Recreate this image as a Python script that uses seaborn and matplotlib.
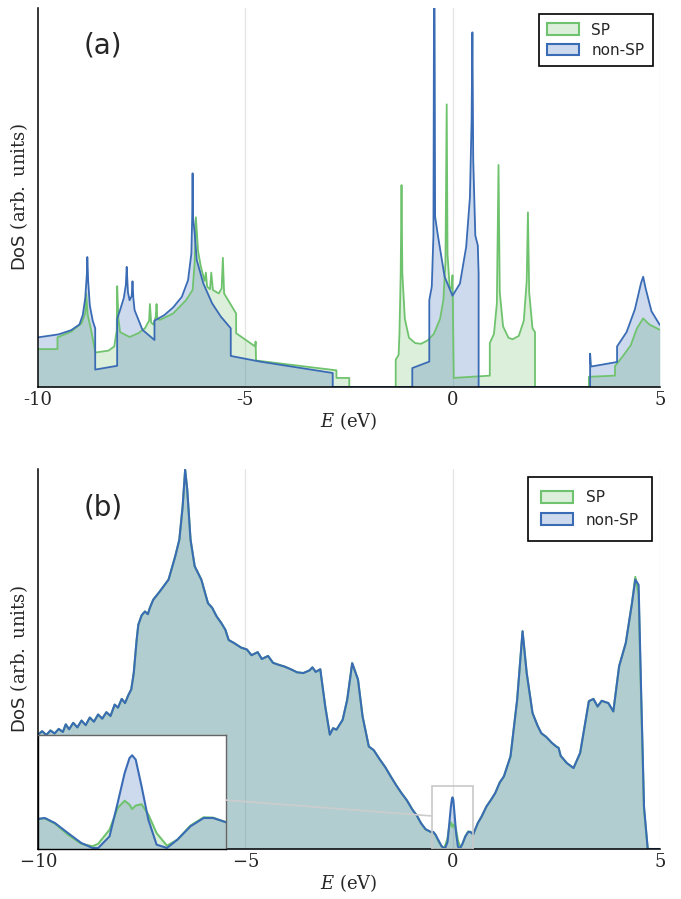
import numpy as np
import matplotlib
matplotlib.use("Agg")
import matplotlib.pyplot as plt
import seaborn as sns
from matplotlib.patches import Patch, Rectangle, ConnectionPatch
from matplotlib.ticker import FixedLocator, FixedFormatter

# ---- panel (a): bare DoS (E in eV, DoS in arb. units 0-100)
a_sp_e = [-10.0, -9.53, -9.53, -9.2, -8.95, -8.86, -8.84, -8.80, -8.72, -8.63, -8.62, -8.3, -8.16,
          -8.10, -8.09, -8.06, -8.02, -7.88, -7.79, -7.58, -7.42, -7.32, -7.30, -7.27, -7.22, -7.16,
          -7.14, -7.12, -7.06, -6.74, -6.43, -6.27, -6.22, -6.19, -6.14, -6.07, -5.98, -5.95, -5.92,
          -5.85, -5.82, -5.78, -5.64, -5.57, -5.54, -5.51, -5.22, -5.22, -4.76, -4.75, -4.74, -2.80,
          -2.80, -2.49, -2.49,
          -1.37, -1.37, -1.30, -1.28, -1.25, -1.23, -1.21, -1.15, -1.05, -0.90, -0.76, -0.60, -0.45,
          -0.30, -0.22, -0.17, -0.14, -0.12, -0.07, -0.02, 0.0, 0.03, 0.90, 0.90, 1.00, 1.07, 1.11,
          1.14, 1.22, 1.35, 1.45, 1.60, 1.72, 1.79, 1.82, 1.85, 1.93, 1.99, 1.99,
          3.29, 3.29, 3.92, 3.92, 4.10, 4.30, 4.45, 4.60, 4.75, 5.0]
a_sp_dos = [10.0, 10.0, 13.1, 14.6, 16.8, 19.5, 24.7, 19.0, 15.1, 9.8, 9.1, 9.6, 10.7,
            15.0, 26.6, 18.0, 14.5, 13.7, 13.2, 14.2, 15.5, 17.5, 21.9, 17.0, 16.5, 18.5,
            21.9, 18.0, 17.7, 19.4, 22.9, 25.6, 33.0, 44.8, 36.0, 31.7, 28.0, 30.2, 26.5,
            25.8, 30.2, 25.6, 24.7, 26.0, 34.1, 24.7, 19.4, 14.2, 10.7, 12.0, 7.0, 4.4,
            2.4, 2.4, 0.0,
            0.0, 7.2, 8.5, 14.0, 30.0, 53.3, 30.0, 18.0, 13.0, 11.6, 11.4, 12.3, 14.0,
            18.0, 22.9, 33.0, 74.6, 35.0, 26.5, 26.0, 29.5, 2.4, 3.0, 11.6, 14.0, 22.0, 58.6,
            25.0, 16.0, 13.0, 12.6, 13.5, 17.5, 28.0, 46.1, 25.0, 15.5, 14.5, 0.0,
            0.0, 2.7, 3.0, 5.5, 8.0, 11.0, 15.5, 18.1, 16.5, 15.1]

a_nsp_e = [-10.0, -9.5, -9.2, -9.0, -8.92, -8.86, -8.82, -8.81, -8.79, -8.75, -8.68, -8.62, -8.62,
           -8.09, -8.09, -8.02, -7.93, -7.88, -7.86, -7.83, -7.79, -7.74, -7.72, -7.70, -7.67, -7.48,
           -7.19, -7.19, -6.95, -6.74, -6.53, -6.38, -6.33, -6.30, -6.28, -6.27, -6.26, -6.22, -6.17,
           -6.01, -5.80, -5.59, -5.35, -5.35, -4.64, -2.89, -2.89,
           -0.97, -0.97, -0.56, -0.56, -0.50, -0.46, -0.44, -0.42, -0.36, -0.19, 0.0, 0.18, 0.33,
           0.42, 0.46, 0.48, 0.50, 0.55, 0.61, 0.63, 0.63,
           3.32, 3.32, 3.34, 3.97, 3.97, 4.20, 4.40, 4.55, 4.60, 4.66, 4.80, 5.0]
a_nsp_dos = [13.1, 13.9, 15.0, 16.5, 19.0, 23.5, 30.0, 34.3, 28.0, 21.5, 17.5, 15.5, 4.6,
             5.6, 18.0, 20.3, 23.5, 27.0, 31.7, 25.0, 22.9, 24.0, 27.9, 23.5, 20.3, 15.1,
             12.4, 17.5, 19.0, 21.0, 23.8, 28.2, 32.6, 35.2, 45.0, 56.4, 45.0, 40.5, 33.5,
             27.3, 22.1, 18.6, 15.5, 8.2, 6.7, 3.7, 0.0,
             0.0, 5.0, 6.7, 22.9, 26.5, 40.0, 130.0, 45.0, 40.5, 29.1, 24.1, 27.3, 37.0,
             50.0, 70.0, 93.6, 60.0, 40.0, 37.4, 30.0, 0.0,
             0.0, 8.8, 5.4, 6.6, 10.7, 14.5, 20.5, 27.5, 29.1, 26.0, 20.0, 16.4]

# ---- panel (b): broadened DoS; both cases share everything away from E = 0
b_left_e = [-10.0, -9.9, -9.8, -9.7, -9.6, -9.5, -9.4, -9.33, -9.25, -9.15, -9.05, -8.95, -8.85,
            -8.75, -8.65, -8.55, -8.45, -8.35, -8.25, -8.15, -8.07, -7.98, -7.9, -7.82, -7.75,
            -7.69, -7.62, -7.58, -7.5, -7.42, -7.35, -7.3, -7.22, -7.06, -6.85, -6.69, -6.59,
            -6.51, -6.45, -6.40, -6.32, -6.22, -6.06, -5.90, -5.80, -5.69, -5.58, -5.48, -5.4,
            -5.27, -5.1, -4.96, -4.85, -4.7, -4.6, -4.45, -4.33, -4.2, -4.05, -3.9, -3.75, -3.6,
            -3.45, -3.38, -3.3, -3.19, -3.07, -2.96, -2.88, -2.80, -2.65, -2.54, -2.42, -2.28,
            -2.17, -2.02, -1.9, -1.75, -1.62, -1.49, -1.36, -1.23, -1.1, -0.97, -0.86, -0.76,
            -0.65]
b_left_dos = [30.1, 31.0, 30.0, 31.2, 30.4, 31.6, 30.8, 32.8, 31.5, 33.2, 32.0, 33.8, 32.6,
              34.6, 33.5, 35.4, 34.3, 36.0, 35.0, 38.0, 37.2, 39.5, 38.4, 40.5, 42.0,
              46.3, 55.0, 59.0, 61.5, 62.5, 61.8, 63.5, 65.6, 67.8, 70.9, 77.0, 81.4,
              90.2, 99.8, 94.6, 81.4, 74.4, 70.9, 64.7, 63.5, 61.2, 59.5, 57.7, 55.0,
              54.2, 53.0, 52.5, 51.0, 51.8, 50.0, 50.8, 49.0, 48.5, 48.0, 47.3, 46.5, 46.3,
              47.0, 47.8, 46.6, 47.3, 37.5, 30.1, 31.8, 31.4, 34.0, 39.3, 48.9, 44.6,
              34.9, 27.0, 26.0, 23.5, 21.5, 19.1, 16.8, 14.7, 12.8, 10.4, 8.8, 6.8,
              5.2]
b_mid_e = [-0.5, -0.464, -0.41, -0.34, -0.27, -0.21, -0.18, -0.12, -0.077, -0.04, -0.014, 0.0,
           0.019, 0.05, 0.086, 0.13, 0.185, 0.24, 0.31, 0.38, 0.43, 0.5]
b_mid_nsp = [4.36, 4.5, 3.77, 2.3, 0.87, 0.15, 0.15, 1.84, 6.68, 11.0, 13.2, 13.6,
             12.97, 9.1, 4.26, 0.63, 0.15, 1.35, 3.3, 4.5, 4.5, 3.87]
b_mid_sp = [4.36, 4.45, 3.68, 2.06, 0.77, 0.39, 0.77, 2.8, 5.95, 7.0, 6.44, 5.8,
            6.3, 6.5, 5.0, 2.3, 0.48, 1.35, 3.4, 4.6, 4.55, 3.87]
b_right_e = [0.61, 0.70, 0.82, 0.92, 1.03, 1.14, 1.24, 1.40, 1.56, 1.69, 1.79, 1.93, 2.05, 2.14,
             2.26, 2.40, 2.50, 2.56, 2.61, 2.76, 2.92, 3.08, 3.29, 3.40, 3.50, 3.60, 3.76,
             3.88, 4.02, 4.18, 4.33]
b_right_dos = [6.8, 8.5, 11.2, 12.8, 14.7, 17.5, 19.1, 24.4, 39.3, 57.3, 46.3, 35.8, 32.5, 30.5,
               29.5, 27.9, 27.0, 26.6, 24.5, 22.6, 21.3, 25.3, 38.9, 39.5, 37.5, 39.0, 38.4,
               36.2, 48.1, 54.2, 64.7]
b_peak_e = [4.41, 4.49, 4.55, 4.62, 4.71, 5.0]
b_peak_nsp = [70.9, 69.5, 41.9, 11.2, 0.0, 0.0]
b_peak_sp = [71.6, 67.0, 40.0, 10.5, 0.0, 0.0]

xticks = [-10, -5, 0, 5]
labels = ["SP", "non-SP"]

GREEN = "#70c36e"
BLUE = "#3a6bb5"
FILL_ALPHA = 0.25

b_e = b_left_e + b_mid_e + b_right_e + b_peak_e
b_sp = b_left_dos + b_mid_sp + b_right_dos + b_peak_sp
b_nsp = b_left_dos + b_mid_nsp + b_right_dos + b_peak_nsp

sns.set_style("white")
plt.rcParams["mathtext.fontset"] = "dejavuserif"
plt.rcParams["axes.unicode_minus"] = False


def draw_dos(ax, e_sp, d_sp, e_nsp, d_nsp, lw=1.3):
    ax.fill_between(e_sp, d_sp, color=GREEN, alpha=FILL_ALPHA, lw=0)
    sns.lineplot(x=e_sp, y=d_sp, ax=ax, color=GREEN, lw=lw, estimator=None, sort=False)
    ax.fill_between(e_nsp, d_nsp, color=BLUE, alpha=FILL_ALPHA, lw=0)
    sns.lineplot(x=e_nsp, y=d_nsp, ax=ax, color=BLUE, lw=lw, estimator=None, sort=False)


def style_axis(ax, ticklabels, letter, legend_kw):
    ax.set_xlim(-10, 5)
    ax.set_ylim(0, 100)
    ax.set_yticks([])
    ax.xaxis.set_major_locator(FixedLocator(xticks))
    ax.xaxis.set_major_formatter(FixedFormatter(ticklabels))
    ax.tick_params(axis="x", length=0, pad=3, labelsize=13)
    for t in ax.get_xticklabels():
        t.set_fontfamily("DejaVu Serif")
    for x in xticks[1:]:
        ax.axvline(x, color="#e4e4e4", lw=0.9, zorder=0)
    for s in ["top", "right"]:
        ax.spines[s].set_visible(False)
    for s in ["left", "bottom"]:
        ax.spines[s].set_color("black")
        ax.spines[s].set_linewidth(1.1)
    ax.set_xlabel(r"$E\ \mathrm{(eV)}$", fontsize=13, labelpad=1)
    ax.set_ylabel(r"$\mathsf{DoS}\ \mathrm{(arb.\ units)}$", fontsize=13, labelpad=6)
    ax.text(0.105, 0.9, letter, transform=ax.transAxes, fontsize=20, ha="center", va="center")
    handles = [Patch(facecolor=matplotlib.colors.to_rgba(c, FILL_ALPHA), edgecolor=c, lw=1.5)
               for c in [GREEN, BLUE]]
    leg = ax.legend(handles, labels, loc="upper right", fancybox=False, framealpha=1,
                    edgecolor="black", fontsize=11, handlelength=2.1, handleheight=0.8,
                    handletextpad=0.8, borderaxespad=0.0, **legend_kw)
    leg.get_frame().set_linewidth(1.2)


fig = plt.figure(figsize=(6.81, 8.99), dpi=100)
ax_a = fig.add_axes([0.0558, 0.5695, 0.913, 0.4215])
ax_b = fig.add_axes([0.0558, 0.0556, 0.913, 0.4227])

draw_dos(ax_a, a_sp_e, a_sp_dos, a_nsp_e, a_nsp_dos)
style_axis(ax_a, ["-10", "-5", "0", "5"], "(a)",
           dict(bbox_to_anchor=(0.989, 0.984), labelspacing=0.35, borderpad=0.55))

draw_dos(ax_b, b_e, b_sp, b_e, b_nsp, lw=1.5)
style_axis(ax_b, [r"$-10$", r"$-5$", r"$0$", r"$5$"], "(b)",
           dict(bbox_to_anchor=(0.987, 0.979), labelspacing=0.5, borderpad=0.85))

# zoom box around E = 0 and the inset showing it
zoom_top = 16.5
ax_b.add_patch(Rectangle((-0.5, 0), 1.0, zoom_top, fill=False, ec="#c8c8c8", lw=1.2, zorder=5))
ax_in = fig.add_axes([0.0558, 0.0556, 0.2765, 0.1265])
ax_in.set_facecolor("white")
ax_in.fill_between(b_mid_e, b_mid_sp, color=GREEN, alpha=FILL_ALPHA, lw=0)
sns.lineplot(x=b_mid_e, y=b_mid_sp, ax=ax_in, color=GREEN, lw=1.5, estimator=None, sort=False)
ax_in.fill_between(b_mid_e, b_mid_nsp, color=BLUE, alpha=FILL_ALPHA, lw=0)
sns.lineplot(x=b_mid_e, y=b_mid_nsp, ax=ax_in, color=BLUE, lw=1.5, estimator=None, sort=False)
ax_in.set_xlim(-0.5, 0.5)
ax_in.set_ylim(0, zoom_top)
ax_in.set_xticks([])
ax_in.set_yticks([])
ax_in.set_xlabel("")
ax_in.set_ylabel("")
for s in ax_in.spines.values():
    s.set_color("#666666")
    s.set_linewidth(1.0)
ax_in.spines["left"].set_color("black")
ax_in.spines["bottom"].set_color("black")
con = ConnectionPatch(xyA=(1.0, 0.43), coordsA=ax_in.transAxes, xyB=(-0.5, 8.7),
                      coordsB=ax_b.transData, color="#cccccc", lw=1.2)
fig.add_artist(con)

fig.savefig("out.png", dpi=100)
